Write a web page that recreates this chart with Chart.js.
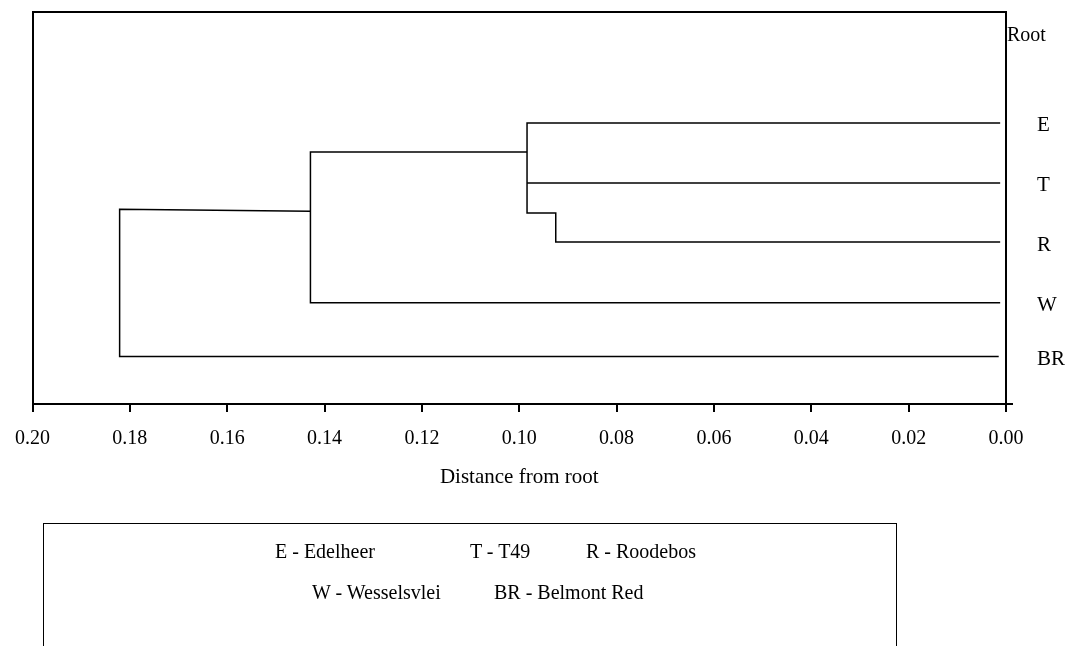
<!DOCTYPE html>
<html>
<head>
<meta charset="utf-8">
<script src="https://cdn.jsdelivr.net/npm/chart.js@4.4.1/dist/chart.umd.min.js"></script>
<style>
  html, body { margin: 0; padding: 0; background: #fff; }
  body { width: 1076px; height: 646px; position: relative; overflow: hidden; font-family: 'Liberation Serif', 'Times New Roman', serif; }
  #dendro { position: absolute; left: 0; top: 0; }
  #keyBox { position: absolute; left: 43px; top: 523px; width: 852px; height: 160px; border: 1.5px solid #000; }
  .key { position: absolute; font-size: 20px; line-height: 22px; white-space: pre; color: #000; }
</style>
</head>
<body>
<canvas id="dendro" width="1076" height="646"></canvas>
<div id="keyBox"></div>
<span class="key" style="left:275px; top:540px;">E - Edelheer</span>
<span class="key" style="left:470px; top:540px;">T - T49</span>
<span class="key" style="left:586px; top:540px;">R - Roodebos</span>
<span class="key" style="left:312px; top:581px;">W - Wesselsvlei</span>
<span class="key" style="left:494px; top:581px;">BR - Belmont Red</span>
<script>
// Leaves (read top to bottom) and their heights on an arbitrary 0-100 vertical scale
const leafNames = ['E', 'T', 'R', 'W', 'BR'];
const leafHeights = [71.7, 56.4, 41.3, 25.8, 12.1];
const rootLabel = 'Root';
const rootLabelHeight = 94;

// Distance axis ticks
const distanceTicks = [0.20, 0.18, 0.16, 0.14, 0.12, 0.10, 0.08, 0.06, 0.04, 0.02, 0.00];

// Branch paths: distance (x) and height (y)
// E joins T at ~0.098, R hangs off a small step at ~0.092
const pathER_x = [0.0012, 0.0984, 0.0984, 0.0925, 0.0925, 0.0012];
const pathER_y = [71.7, 71.7, 48.7, 48.7, 41.3, 41.3];
const pathT_x = [0.0984, 0.0012];
const pathT_y = [56.4, 56.4];
// (E,T,R) joins W at ~0.143
const pathW_x = [0.0984, 0.1429, 0.1429, 0.0012];
const pathW_y = [64.3, 64.3, 25.8, 25.8];
// everything joins BR at ~0.182
const pathBR_x = [0.1429, 0.1821, 0.1821, 0.0015];
const pathBR_y = [49.2, 49.7, 12.1, 12.1];

const serif = "'Liberation Serif', 'Times New Roman', serif";

function toPoints(xs, ys) {
    return xs.map((x, i) => ({ x: x, y: ys[i] }));
}

function branch(xs, ys) {
    return {
        data: toPoints(xs, ys),
        showLine: true,
        borderColor: '#000',
        borderWidth: 1.5,
        pointRadius: 0,
        fill: false,
        tension: 0
    };
}

// Leaf names and the root label along the right-hand axis
const leafLabelPlugin = {
    id: 'leafLabels',
    afterDraw(chart) {
        const ctx = chart.ctx;
        const yScale = chart.scales.y;
        const area = chart.chartArea;
        ctx.save();
        ctx.fillStyle = '#000';
        ctx.textBaseline = 'middle';
        ctx.font = '21px ' + serif;
        ctx.textAlign = 'left';
        leafNames.forEach((name, i) => {
            ctx.fillText(name, area.right + 31, yScale.getPixelForValue(leafHeights[i]) + 3);
        });
        ctx.font = '20px ' + serif;
        ctx.fillText(rootLabel, area.right + 1, yScale.getPixelForValue(rootLabelHeight));
        ctx.restore();
    }
};

const ctx = document.getElementById('dendro').getContext('2d');
new Chart(ctx, {
    type: 'scatter',
    data: {
        datasets: [
            branch(pathER_x, pathER_y),
            branch(pathT_x, pathT_y),
            branch(pathW_x, pathW_y),
            branch(pathBR_x, pathBR_y)
        ]
    },
    options: {
        responsive: false,
        animation: false,
        devicePixelRatio: 1,
        layout: { padding: { left: 30, top: 12, right: 0, bottom: 0 } },
        plugins: {
            legend: { display: false },
            tooltip: { enabled: false }
        },
        scales: {
            x: {
                type: 'linear',
                position: 'bottom',
                reverse: true,
                min: 0,
                max: 0.2,
                afterBuildTicks: s => { s.ticks = distanceTicks.map(v => ({ value: v })); },
                afterFit: s => { s.height = 242; },
                border: { color: '#000', width: 2 },
                grid: { drawOnChartArea: false, drawTicks: true, tickLength: 8, color: '#000', lineWidth: 2 },
                ticks: {
                    color: '#000',
                    font: { family: serif, size: 20 },
                    padding: 15,
                    maxRotation: 0,
                    autoSkip: false,
                    callback: v => Number(v).toFixed(2)
                },
                title: {
                    display: true,
                    text: 'Distance from root',
                    color: '#000',
                    font: { family: serif, size: 21 },
                    padding: { top: 0, bottom: 156 }
                }
            },
            xTop: {
                type: 'linear',
                position: 'top',
                min: 0,
                max: 0.2,
                afterFit: s => { s.height = 0; },
                border: { color: '#000', width: 2 },
                grid: { drawOnChartArea: false, drawTicks: false },
                ticks: { display: false }
            },
            y: {
                type: 'linear',
                position: 'right',
                min: 0,
                max: 100,
                afterBuildTicks: s => { s.ticks = [{ value: 0 }]; },
                afterFit: s => { s.width = 70; },
                border: { color: '#000', width: 2 },
                grid: {
                    drawOnChartArea: false,
                    drawTicks: true,
                    tickLength: 7,
                    lineWidth: 2,
                    color: c => (c.tick && c.tick.value === 0 ? '#000' : 'rgba(0,0,0,0)')
                },
                ticks: { display: false }
            },
            yLeft: {
                type: 'linear',
                position: 'left',
                min: 0,
                max: 100,
                afterFit: s => { s.width = 0; },
                border: { color: '#000', width: 2 },
                grid: { drawOnChartArea: false, drawTicks: false },
                ticks: { display: false }
            }
        }
    },
    plugins: [leafLabelPlugin]
});
</script>
</body>
</html>
